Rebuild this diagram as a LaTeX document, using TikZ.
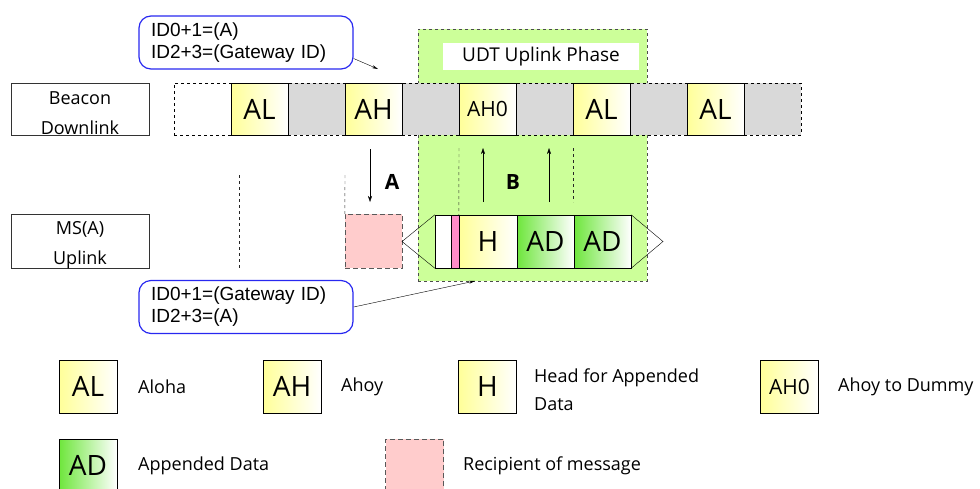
\documentclass[tikz,border=0pt]{standalone}
\usepackage{fontspec}
\setmainfont{Open Sans}
\newfontfamily\calloutfont{Liberation Sans}
\usepackage{tikz}
\usetikzlibrary{arrows.meta}
\pgfdeclarelayer{phaselayer}
\pgfdeclarelayer{slotlayer}
\pgfsetlayers{phaselayer,slotlayer,main}
\definecolor{alyellow}{RGB}{255,255,153}
\definecolor{adgreen}{RGB}{110,230,60}
\definecolor{slotgray}{RGB}{217,217,217}
\definecolor{phasegreen}{RGB}{204,255,153}
\definecolor{recpink}{RGB}{255,204,204}
\definecolor{strippink}{RGB}{255,140,200}
\definecolor{calloutblue}{RGB}{40,40,240}
\tikzstyle{slot}=[draw=black, minimum width=57pt, minimum height=52pt, inner sep=0pt, font=\fontsize{28}{30}\selectfont]
\tikzstyle{yellowslot}=[slot, left color=alyellow, right color=white]
\tikzstyle{greenslot}=[slot, left color=adgreen, right color=white]
\tikzstyle{grayslot}=[slot, fill=slotgray, dashed]
\tikzstyle{emptyslot}=[slot, fill=white, dashed]
\tikzstyle{smallslot}=[font=\fontsize{21}{22}\selectfont]
\tikzstyle{recipient}=[slot, fill=recpink, draw=black!65, dash pattern=on 5pt off 3pt]
\tikzstyle{labelbox}=[draw=black!80, minimum width=138pt, minimum height=52pt]
\tikzstyle{labeltext}=[align=center, inner sep=0pt, font=\fontsize{18}{30}\selectfont]
\tikzstyle{callout}=[draw=calloutblue, line width=1.2pt, rounded corners=12pt, minimum width=214pt, minimum height=53pt, text width=190pt, align=left, font=\calloutfont\fontsize{19}{22}\selectfont]
\tikzstyle{phase}=[fill=phasegreen, draw=black!70, dashed, minimum width=229pt, minimum height=252pt]
\tikzstyle{timeline}=[draw=black!85, dashed]
\tikzstyle{signal}=[draw=black, -{Stealth[length=6pt,width=4pt]}]
\tikzstyle{pointer}=[draw=black, -{Stealth[length=6pt,width=3pt]}]
\tikzstyle{tag}=[font=\bfseries\fontsize{21}{22}\selectfont]
\tikzstyle{legendtext}=[anchor=west, inner sep=0pt, align=left, font=\fontsize{18}{28}\selectfont]

\begin{document}
\begin{tikzpicture}[x=1pt, y=-1pt, line width=0.8pt]
	\useasboundingbox (0,0) rectangle (980,488);
	\begin{pgfonlayer}{phaselayer}
		\node [style=phase] (udt) at (532.5,155) {};
	\end{pgfonlayer}
	\node [fill=white, minimum width=196pt, minimum height=27pt, font=\fontsize{19}{20}\selectfont] (udtlabel) at (541,56.5) {UDT Uplink Phase};

	% beacon downlink
	\node [style=labelbox] (beacon) at (80,109) {};
	\node [style=labeltext] (beacontext) at (80,113) {Beacon\\Downlink};
	\begin{pgfonlayer}{slotlayer}
		\node [style=emptyslot] (b0) at (202.5,109) {};
		\node [style=grayslot] (b2) at (316.5,109) {};
		\node [style=grayslot] (b4) at (430.5,109) {};
		\node [style=grayslot] (b6) at (544.5,109) {};
		\node [style=grayslot] (b8) at (658.5,109) {};
		\node [style=grayslot] (b10) at (772.5,109) {};
	\end{pgfonlayer}
	\node [style=yellowslot] (b1) at (259.5,109) {AL};
	\node [style=yellowslot] (b3) at (373.5,109) {AH};
	\node [style=yellowslot, style=smallslot] (b5) at (487.5,109) {AH0};
	\node [style=yellowslot] (b7) at (601.5,109) {AL};
	\node [style=yellowslot] (b9) at (715.5,109) {AL};

	% MS(A) uplink
	\node [style=labelbox, minimum height=54pt] (ms) at (80,241) {};
	\node [style=labeltext] (mstext) at (80,245) {MS(A)\\Uplink};
	\node [style=recipient, minimum height=54pt] (rcpt) at (373.5,241) {};
	\node [draw=black, fill=white, minimum width=16pt, minimum height=53pt, inner sep=0pt] (p0) at (443,241.5) {};
	\node [draw=black, fill=strippink, minimum width=8pt, minimum height=53pt, inner sep=0pt] (p1) at (455,241.5) {};
	\node [style=yellowslot, minimum width=58pt, minimum height=53pt] (p2) at (488,241.5) {H};
	\node [style=greenslot, minimum height=53pt] (p3) at (545.5,241.5) {AD};
	\node [style=greenslot, minimum height=53pt] (p4) at (602.5,241.5) {AD};
	\coordinate (lefttip) at (402,241.5);
	\coordinate (righttip) at (663,241.5);
	\draw (p0.north west) -- (lefttip) -- (p0.south west);
	\draw (p4.north east) -- (righttip) -- (p4.south east);

	% time marks and signals
	\coordinate (m1top) at (239,175);
	\coordinate (m1bot) at (239,268);
	\coordinate (m2top) at (345,175);
	\coordinate (m3top) at (459,148);
	\coordinate (m4top) at (573,148);
	\coordinate (m4bot) at (573,202);
	\draw [style=timeline] (m1top) -- (m1bot);
	\draw [style=timeline] (m2top) -- (rcpt.north west);
	\draw [style=timeline] (m3top) -- (p2.north west);
	\draw [style=timeline] (m4top) -- (m4bot);
	\coordinate (atop) at (370,149);
	\coordinate (abot) at (370,202);
	\draw [style=signal] (atop) -- (abot);
	\node [style=tag] (alabel) at (392,182) {A};
	\coordinate (u1bot) at (483,202);
	\coordinate (u1top) at (483,148);
	\coordinate (u2bot) at (549,202);
	\coordinate (u2top) at (549,148);
	\draw [style=signal] (u1bot) -- (u1top);
	\draw [style=signal] (u2bot) -- (u2top);
	\node [style=tag] (blabel) at (513,182) {B};

	% callouts
	\node [style=callout] (idbeacon) at (246,42.5) {ID0+1=(A)\\ID2+3=(Gateway ID)};
	\coordinate (idbeacontip) at (378,69);
	\draw [style=pointer] ([yshift=-16pt]idbeacon.east) -- (idbeacontip);
	\node [style=callout] (idms) at (246,307) {ID0+1=(Gateway ID)\\ID2+3=(A)};
	\coordinate (idmstip) at (475,281);
	\draw [style=pointer] (idms.east) -- (idmstip);

	% legend
	\node [style=yellowslot, minimum width=58pt, minimum height=53pt] (keyal) at (88,386.5) {AL};
	\node [style=legendtext] (keyaltext) at (138,387) {Aloha};
	\node [style=yellowslot, minimum width=58pt, minimum height=53pt] (keyah) at (292,386.5) {AH};
	\node [style=legendtext] (keyahtext) at (341,387) {Ahoy};
	\node [style=yellowslot, minimum width=58pt, minimum height=53pt] (keyh) at (487.5,386.5) {H};
	\node [style=legendtext] (keyhtext) at (534,390) {Head for Appended\\Data};
	\node [style=yellowslot, style=smallslot, minimum width=58pt, minimum height=53pt] (keyah0) at (789.5,386.5) {AH0};
	\node [style=legendtext] (keyah0text) at (838,387) {Ahoy to Dummy};
	\node [style=greenslot, minimum width=58pt, minimum height=53pt] (keyad) at (88,465.5) {AD};
	\node [style=legendtext] (keyadtext) at (138,466) {Appended Data};
	\node [style=recipient, minimum width=58pt, minimum height=53pt] (keyrcpt) at (414.5,465.5) {};
	\node [style=legendtext] (keyrcpttext) at (463,466) {Recipient of message};
\end{tikzpicture}
\end{document}
